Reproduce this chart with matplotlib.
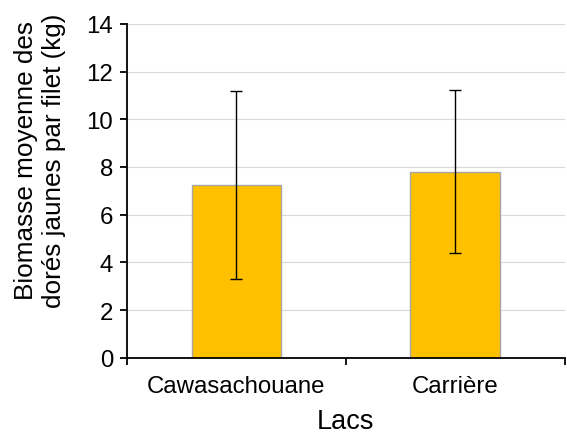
import matplotlib.pyplot as plt

plt.rcParams['font.family'] = ['Liberation Sans', 'DejaVu Sans']

# Data
lacs = ['Cawasachouane', 'Carrière']
biomasse = [7.25, 7.81]
err_bas = [3.95, 3.40]
err_haut = [3.95, 3.40]

fig = plt.figure(figsize=(5.67, 4.35), dpi=100)
ax = fig.add_axes([0.224, 0.175, 0.772, 0.768])

x = range(len(lacs))
ax.bar(x, biomasse, width=0.41, color='#FFC000', edgecolor='#A6A6A6',
       linewidth=1, zorder=2)
ax.errorbar(x, biomasse, yerr=[err_bas, err_haut], fmt='none',
            ecolor='black', elinewidth=1, capsize=4.3, capthick=1, zorder=3)

ax.set_xlim(-0.5, 1.5)
ax.set_ylim(0, 14)
ax.set_yticks(range(0, 15, 2))
ax.set_xticks([-0.5, 0.5, 1.5], minor=False)
ax.set_xticklabels([])
ax.set_xticks(list(x), minor=True)
ax.set_xticklabels(lacs, minor=True)
ax.tick_params(axis='x', which='minor', length=0, labelsize=17.3, pad=12)
ax.tick_params(axis='x', which='major', length=5, width=1.3, direction='out')
ax.tick_params(axis='y', length=5, width=1.3, labelsize=17.3, pad=5)

ax.grid(axis='y', color='#D9D9D9', linewidth=0.8, zorder=0)
ax.set_axisbelow(True)

for s in ['top', 'right']:
    ax.spines[s].set_visible(False)
ax.spines['left'].set_linewidth(1.3)
ax.spines['bottom'].set_linewidth(1.3)

ax.set_xlabel('Lacs', fontsize=19.5, labelpad=8.5)
fig.text(40 / 567, 1 - 161 / 435, 'Biomasse moyenne des\ndorés jaunes par filet (kg)',
         rotation=90, ha='center', va='center', fontsize=18.8, linespacing=1.2)

plt.savefig('out.png', dpi=100)
